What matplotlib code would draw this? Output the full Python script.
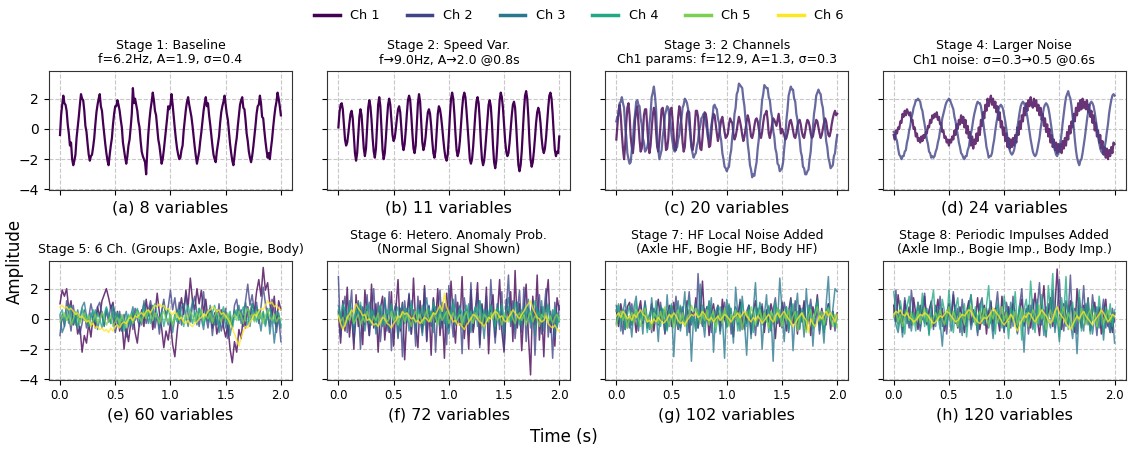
import numpy as np
import matplotlib
matplotlib.use("Agg")
import matplotlib.pyplot as plt
from matplotlib.lines import Line2D

CHANNELS = ["Ch 1", "Ch 2", "Ch 3", "Ch 4", "Ch 5", "Ch 6"]

TITLES = [
    "Stage 1: Baseline\nf=6.2Hz, A=1.9, σ=0.4",
    "Stage 2: Speed Var.\nf→9.0Hz, A→2.0 @0.8s",
    "Stage 3: 2 Channels\nCh1 params: f=12.9, A=1.3, σ=0.3",
    "Stage 4: Larger Noise\nCh1 noise: σ=0.3→0.5 @0.6s",
    "Stage 5: 6 Ch. (Groups: Axle, Bogie, Body)",
    "Stage 6: Hetero. Anomaly Prob.\n(Normal Signal Shown)",
    "Stage 7: HF Local Noise Added\n(Axle HF, Bogie HF, Body HF)",
    "Stage 8: Periodic Impulses Added\n(Axle Imp., Bogie Imp., Body Imp.)",
]
SUBLABELS = ["(a) 8 variables", "(b) 11 variables", "(c) 20 variables", "(d) 24 variables",
             "(e) 60 variables", "(f) 72 variables", "(g) 102 variables", "(h) 120 variables"]

# ---- stage 1 .. 4 (sampled every 0.01 s) ----
s1_ch1 = [-0.4, 0.9, 1.6, 2.2, 1.7, 1.6, 1.2, 0.3, -0.3, -1.1,
          -0.9, -2.0, -2.4, -2.1, -1.7, -0.6, 0.1, 0.8, 1.6, 2.3,
          2.0, 1.9, 1.2, 0.2, -0.2, -1.0, -1.7, -2.1, -1.8, -1.7,
          -1.2, -0.6, 0.3, 1.1, 1.6, 2.0, 2.3, 1.5, 1.2, 0.4,
          -0.3, -1.0, -1.6, -2.1, -2.4, -1.7, -1.1, -0.6, 0.3, 1.0,
          1.5, 1.5, 1.9, 1.6, 1.2, 0.6, 0.1, -0.9, -1.4, -1.9,
          -2.3, -1.8, -1.1, -0.7, 0.1, 1.0, 2.7, 1.7, 2.0, 1.6,
          1.2, 0.5, 0.1, -0.8, -1.5, -1.8, -2.0, -2.2, -3.0, -1.5,
          -0.3, 0.6, 1.3, 1.8, 2.4, 1.9, 1.2, 0.9, 0.1, -0.7,
          -1.1, -1.7, -2.3, -2.0, -1.4, -0.7, 0.0, 0.7, 1.5, 1.3,
          1.6, 2.3, 1.6, 0.8, 0.0, -0.7, -1.3, -1.7, -2.0, -1.9,
          -1.4, -1.1, -0.1, 0.6, 1.3, 1.8, 2.1, 1.6, 1.2, 0.8,
          0.2, -0.5, -1.2, -1.8, -2.3, -1.9, -1.5, -0.8, -0.2, 0.5,
          1.2, 1.7, 2.1, 1.5, 1.7, 0.9, 0.3, -0.4, -1.1, -1.7,
          -2.0, -2.2, -1.5, -1.0, -0.5, 0.4, 1.1, 1.5, 1.8, 2.2,
          1.6, 1.0, 0.6, -0.2, -1.0, -1.6, -2.1, -2.4, -1.8, -1.1,
          -0.6, 0.2, 0.9, 1.6, 1.9, 2.1, 1.4, 1.3, 0.6, -0.3,
          -0.8, -1.5, -1.9, -2.2, -1.8, -1.2, -0.5, 0.2, 1.0, 1.5,
          1.6, 2.2, 1.7, 0.8, 0.7, -0.1, -0.8, -1.4, -1.9, -1.6,
          -2.0, -1.3, -0.7, 0.1, 0.8, 1.4, 1.8, 2.4, 2.0, 1.5,
          0.9]

s2_ch1 = [0.1, 1.1, 1.6, 1.7, 1.3, 0.3, -0.7, -1.1, -0.9, -0.3, 0.4,
          1.0, 1.2, 0.7, -0.5, -1.6, -2.1, -1.6, -0.4, 0.8, 1.3,
          0.9, -0.2, -1.3, -1.8, -1.3, 0.1, 1.4, 1.9, 1.5, 0.6,
          -0.6, -1.5, -1.9, -1.3, 0.1, 1.6, 2.1, 1.5, 0.1, -1.4,
          -2.0, -1.6, -0.6, 0.6, 1.6, 2.0, 1.6, 0.6, -0.4, -0.8,
          -0.6, 0.0, 0.7, 1.3, 1.5, 1.1, 0.1, -1.0, -1.4, -1.0,
          -0.1, 1.0, 1.9, 2.2, 1.9, 0.9, -0.3, -1.3, -1.6, -1.1,
          0.3, 1.7, 2.3, 1.8, 0.5, -0.9, -1.4, -1.1, -0.5, 0.4,
          1.1, 1.3, 1.0, 0.2, -0.8, -1.6, -1.9, -1.4, -0.2, 1.0,
          1.5, 1.3, 0.8, 0.1, -0.7, -1.4, -1.9, -2.1, -1.7, -0.5,
          0.9, 2.0, 2.4, 2.0, 1.0, -0.3, -1.4, -1.8, -1.5, -0.8,
          0.3, 1.3, 2.1, 2.4, 2.1, 1.2, 0.1, -1.1, -2.0, -2.3,
          -2.0, -1.2, -0.1, 1.0, 1.8, 2.1, 1.7, 0.6, -0.9, -2.0,
          -2.4, -2.1, -1.3, -0.3, 0.8, 1.6, 1.9, 1.5, 0.4, -1.1,
          -2.2, -2.6, -2.1, -0.9, 0.7, 1.9, 2.4, 2.1, 1.4, 0.3,
          -0.8, -1.5, -1.8, -1.6, -0.9, 0.0, 0.9, 1.6, 1.8, 1.4,
          0.2, -1.2, -2.4, -2.8, -2.4, -1.5, -0.2, 1.2, 2.2, 2.5,
          2.0, 0.8, -0.8, -2.0, -2.5, -2.2, -1.5, -0.6, 0.4, 1.1,
          1.4, 1.1, 0.4, -0.6, -1.3, -1.6, -1.3, -0.6, 0.4, 1.4,
          2.2, 2.4, 2.0, 1.0, -0.3, -1.4, -1.8, -1.5, -1.6, -0.5]

s3_ch1 = [-0.7, 0.3, 1.2, 1.6, 0.9, -0.3, -1.3, -2.0, -1.1, 0.4,
          1.4, 1.7, 0.9, -0.5, -1.2, -1.6, -0.8, 0.6, 1.2, 1.5,
          0.4, -0.7, -1.5, -1.3, -0.4, 0.9, 1.3, 1.3, 0.1, -0.9,
          -1.6, -1.1, 0.0, 0.9, 1.4, 1.1, -0.2, -1.2, -1.5, -0.8,
          0.3, 1.3, 1.4, 0.8, -0.3, -1.4, -1.3, -0.7, 0.6, 1.3,
          1.4, 0.5, -0.6, -1.4, -1.4, -0.3, 0.8, 1.5, 1.1, 0.3,
          -0.9, -1.5, -1.2, 0.0, 1.0, 1.2, 1.1, -0.1, -1.1, -1.4,
          -1.0, 0.2, 1.2, 1.2, 0.8, -0.4, -1.3, -1.4, -0.6, 0.5,
          1.1, 1.0, 0.5, -0.5, -1.2, -1.1, -0.3, 0.6, 1.0, 0.9,
          0.3, -0.3, -0.8, -0.4, 0.1, 0.6, 0.8, 0.3, -0.2, -0.6,
          -0.5, -0.3, 0.3, 0.7, 0.5, 0.4, -0.3, -0.7, -0.5, -0.1,
          0.4, 0.8, 0.5, 0.1, -0.4, -0.8, -0.5, 0.0, 0.5, 0.9,
          0.6, 0.1, -0.5, -0.6, -0.3, 0.2, 0.6, 0.7, 0.5, 0.0,
          -0.4, -0.6, -0.2, 0.4, 0.9, 1.0, 1.2, 0.6, -0.3, -0.6,
          -0.2, 0.3, 0.7, 0.6, 0.4, 0.2, 0.6, 1.0, 0.4, -0.3,
          0.0, -0.2, -0.4, -0.7, -0.6, -0.3, 0.1, 0.5, 0.6, 0.3,
          -0.1, -0.5, -0.6, -0.3, 0.2, 0.5, 0.6, 0.3, -0.2, -0.5,
          -0.6, -0.2, 0.3, 0.6, 0.5, 0.2, -0.3, -0.6, -0.5, -0.1,
          0.3, 0.6, 0.5, 0.1, -0.3, -0.6, -0.4, 0.0, 0.4, 0.7,
          0.5, 0.0, -0.4, -0.5, -0.2, 0.3, 0.7, 1.0, 1.2, 0.9,
          1.0]

s3_ch2 = [0.5, 0.8, 0.9, 1.7, 1.8, 2.1, 1.7, 1.4, 0.2, -0.5, -1.6,
          -2.0, -2.3, -2.2, -1.4, -0.8, 0.4, 1.0, 1.8, 1.9, 1.6,
          1.5, 0.7, 0.3, -0.6, -0.9, -1.5, -1.4, -1.2, -0.8, 0.3,
          1.0, 2.1, 2.4, 2.8, 2.2, 1.3, -0.5, -1.4, -2.0, -1.7,
          -1.4, -0.5, 0.0, 0.9, 1.2, 1.5, 1.4, 0.8, 0.4, -0.4,
          -0.9, -1.4, -1.5, -1.3, -1.2, -0.7, -0.4, 0.3, 0.7, 1.4,
          1.6, 2.0, 1.9, 1.7, 1.3, 0.4, -0.4, -1.2, -1.6, -1.9,
          -1.7, -1.6, -1.1, -0.8, -0.1, 0.2, 0.7, 0.8, 1.0, 0.9,
          0.3, 0.0, -0.6, -0.7, -0.4, 0.2, 0.7, 1.5, 1.6, 1.4,
          1.3, 0.7, 0.4, -0.4, -0.8, -1.6, -2.0, -2.5, -2.6, -2.8,
          -2.6, -2.5, -1.8, -1.4, -0.5, 0.0, 1.0, 1.4, 2.3, 2.5,
          3.0, 2.9, 2.8, 2.7, 2.0, 1.5, 0.6, 0.0, -1.0, -1.6,
          -2.4, -2.7, -3.2, -3.0, -3.1, -2.6, -2.2, -1.3, -0.7, 0.4,
          1.0, 1.9, 2.3, 2.9, 2.8, 2.7, 2.7, 2.1, 1.9, 1.2,
          0.8, -0.1, -0.5, -1.3, -1.6, -2.3, -2.4, -2.8, -2.7, -2.6,
          -2.2, -1.3, -0.6, 0.6, 1.3, 2.2, 2.5, 2.8, 2.6, 2.6,
          2.0, 1.8, 1.0, 0.6, -0.2, -0.7, -1.5, -1.8, -2.5, -2.6,
          -3.0, -3.0, -2.8, -2.7, -2.0, -1.5, -0.5, 0.1, 1.0, 1.5,
          2.2, 2.4, 2.6, 2.4, 2.3, 1.7, 1.4, 0.6, 0.1, -0.8,
          -1.2, -1.9, -2.2, -2.6, -2.5, -2.4, -1.8, -1.6, -0.9, -0.4]

s4_ch1 = [-0.4, -0.7, -0.1, -0.3, 0.1, 0.0, 0.5, 0.4, 1.0, 0.8,
          1.2, 0.9, 1.3, 1.1, 0.9, 1.1, 0.5, 0.6, 0.0, 0.1,
          -0.5, -0.3, -0.8, -0.6, -0.9, -0.5, -0.8, -0.4, -0.6, -0.2,
          -0.3, 0.2, 0.1, 0.6, 0.4, 0.9, 0.7, 1.0, 0.8, 1.1,
          0.6, 0.8, 0.3, 0.4, -0.2, -0.1, -0.6, -0.5, -0.9, -0.7,
          -1.1, -0.7, -0.9, -0.5, -0.7, -0.1, -0.4, 0.3, 0.0, 0.6,
          0.3, 0.9, 0.4, 0.8, 0.1, 0.6, -0.3, 0.2, -0.6, -0.2,
          -1.1, -0.5, -1.3, -0.7, -1.0, -0.3, -0.8, 0.1, -0.4, 0.6,
          0.2, 1.1, 0.7, 1.6, 1.2, 2.0, 1.5, 1.9, 2.2, 1.6,
          2.0, 1.4, 1.8, 1.1, 1.5, 0.6, 1.1, 0.1, 0.5, -0.4,
          0.1, -0.8, -0.3, -1.2, -0.6, -1.3, -0.7, -1.2, -0.6, -1.1,
          -0.4, -0.9, 0.1, -0.4, 0.5, 0.0, 0.9, 0.5, 1.4, 0.9,
          1.7, 1.2, 1.9, 1.5, 2.1, 1.6, 1.4, 2.0, 1.5, 1.9,
          1.2, 1.6, 0.9, 1.4, 0.6, 1.0, 0.2, 0.7, -0.2, 0.3,
          -0.5, 0.0, -0.9, -0.4, -1.2, -0.7, -1.4, -0.9, -1.6, -1.0,
          -1.5, -1.0, -1.6, -0.8, -1.3, -0.6, -1.1, -0.2, -0.7, 0.2,
          -0.3, 0.5, 0.1, 1.0, 0.5, 1.4, 0.9, 1.7, 1.2, 1.9,
          1.3, 2.0, 1.4, 1.8, 1.3, 1.9, 1.1, 1.6, 0.8, 1.2,
          0.4, 0.9, -0.1, 0.4, -0.5, -0.1, -0.9, -0.4, -1.3, -0.8,
          -1.7, -1.2, -1.9, -1.3, -2.0, -1.4, -1.8, -1.2, -1.6, -0.9,
          -1.0]

s4_ch2 = [-0.2, -0.3, -0.6, -0.8, -1.3, -1.7, -1.8, -2.0, -1.8, -1.8, -1.5,
          -1.4, -0.9, -0.6, -0.1, 0.2, 0.7, 1.0, 1.4, 1.6, 1.9,
          1.9, 2.0, 1.9, 1.8, 1.4, 1.2, 0.7, 0.3, -0.2, -0.7,
          -1.0, -1.5, -1.6, -1.9, -1.8, -1.9, -1.8, -1.5, -1.3, -0.9,
          -0.6, -0.1, 0.2, 0.7, 1.0, 1.3, 1.6, 1.8, 1.9, 2.0,
          1.9, 1.7, 1.5, 1.3, 0.8, 0.5, 0.0, -0.4, -0.9, -1.2,
          -1.6, -1.7, -1.9, -2.0, -1.8, -1.8, -1.4, -1.2, -0.7, -0.3,
          0.1, 0.6, 1.0, 1.3, 1.6, 1.8, 1.7, 1.7, 1.5, 1.0,
          0.5, -0.1, -0.6, -1.2, -1.5, -1.9, -1.8, -1.8, -1.6, -1.1,
          -0.7, -0.1, 0.4, 0.8, 1.3, 1.5, 1.6, 1.5, 1.3, 0.9,
          0.5, 0.0, -0.6, -1.0, -1.4, -1.6, -1.7, -1.6, -1.4, -1.0,
          -0.5, 0.1, 0.6, 1.1, 1.5, 1.7, 1.8, 1.7, 1.5, 1.2,
          0.8, 0.3, -0.2, -0.7, -1.1, -1.5, -1.7, -1.8, -1.7, -1.4,
          -1.0, -0.6, 0.0, 0.5, 1.0, 1.4, 1.6, 1.7, 1.6, 1.4,
          1.0, 0.5, 0.0, -0.6, -1.0, -1.4, -1.7, -1.8, -1.6, -1.3,
          -0.9, -0.3, 0.4, 1.0, 1.6, 2.1, 2.3, 2.5, 2.2, 2.0,
          1.5, 0.8, 0.1, -0.7, -1.4, -1.9, -2.2, -2.4, -2.1, -2.0,
          -1.6, -1.1, -0.6, 0.0, 0.6, 1.1, 1.5, 1.7, 1.8, 1.7,
          1.5, 1.1, 0.6, 0.1, -0.4, -0.9, -1.3, -1.5, -1.6, -1.5,
          -1.2, -0.8, -0.2, 0.3, 1.0, 1.5, 1.9, 2.2, 2.3, 2.2]

# ---- stage 5 .. 8 (sampled every 0.02 s) ----
s5_ch1 = [1.0, 1.9, 1.5, 2.0, 0.6, 1.2, -0.4, 0.3, -1.0, -0.5, -2.2, -1.1, -1.6, -0.3, -1.2, 0.2, -0.6,
          0.8, 0.1, 1.2, 1.6, 2.0, 1.4, 0.7, 1.1, -0.4, 0.5, -0.8, -0.2, -2.0, -0.6, -1.5, -0.3, 0.4,
          -0.9, -1.6, -0.2, 0.6, -0.5, 1.3, 0.2, 0.9, -0.7, 0.3, 1.7, 0.4, -0.6, -1.9, -0.8, -1.4,
          -0.2, -1.7, -2.5, -0.9, 0.5, 1.4, 0.3, 1.9, 0.8, 2.7, 1.2, 0.6, 2.0, 1.0, 1.9, 0.4, 1.3,
          -0.1, 0.7, -0.6, 0.4, -1.0, -0.3, 0.6, -0.5, -1.2, -0.4, -2.0, -2.9, -1.5, -2.2, -0.7, -1.3,
          0.2, -0.6, 0.8, 0.1, 1.0, 0.5, 1.8, 2.6, 1.5, 3.4, 1.9, 2.4, 1.0, 0.2, 1.5, -0.5, 1.2, 0.6]
s5_ch2 = [-1.1, 0.3, -0.5, 1.2, 0.2, -0.8, 0.9, -0.2, 0.4, -1.0, -0.3, 0.6, -0.6, 0.1, 1.0, 0.3, -0.4,
          0.8, 1.1, 0.2, -0.5, 0.6, -0.2, 0.9, 0.1, -0.9, -0.3, 0.5, -0.8, 0.3, -1.2, -0.4, 0.2, -0.7,
          0.7, 0.0, -0.5, 0.4, 1.0, -0.3, 0.6, 1.2, 0.2, -0.6, 0.3, -1.0, 0.5, 1.3, 0.1, 0.8, 1.9,
          0.6, 1.4, 0.2, 1.1, -0.4, 0.7, 1.6, 0.3, -0.2, 0.9, 1.5, 0.4, -0.5, 0.6, 1.8, 0.2, -0.6,
          0.5, -1.1, 0.3, -0.4, 1.0, -0.8, -0.2, 0.7, -1.3, 0.2, -0.6, 0.9, 1.3, 0.1, 0.6, -0.5, 1.2,
          2.3, 0.9, 1.6, 0.4, 1.1, -0.3, 0.8, 2.1, 1.0, 0.2, -0.5, 1.3, 0.4, -0.9, 0.2, -1.5]
s5_ch3 = [0.2, -0.9, -0.5, 0.4, -0.3, 0.9, 0.1, -0.4, 0.6, -0.2, 0.8, 1.1, 0.2, -0.5, 0.4, -0.1, 0.6,
          -0.7, 0.0, 0.5, -0.4, 0.7, 0.2, -0.3, 0.9, 0.4, -0.2, 0.3, -0.8, -0.1, 0.5, -0.5, 0.2, 0.8,
          -0.1, 0.6, 0.3, -0.4, 1.2, 0.4, -0.3, 0.5, 0.9, -0.2, 0.3, -0.6, 0.4, 1.1, 0.2, -0.4, 0.3,
          -0.9, 0.1, 0.6, -0.3, 0.8, 1.0, 0.2, -0.5, 0.4, 1.2, 0.3, -0.4, 0.7, 0.0, -0.7, 0.5, -0.2,
          0.9, 0.2, -0.4, 0.6, -0.9, 0.1, 0.5, -0.6, 0.3, -1.1, -0.2, 0.6, 0.2, 0.9, -0.3, 0.4, 1.1,
          0.3, -0.5, 0.6, -0.1, 0.8, 0.1, -0.8, 0.5, -0.4, 0.7, -1.0, 0.2, -1.6, -0.3, 0.4, -0.6]
s5_ch4 = [0.3, 0.6, -0.2, 0.5, 0.9, 0.1, -0.3, 0.4, -0.6, 0.2, 0.7, -0.1, 0.3, -0.5, 0.1, 0.6, -0.2,
          0.4, 0.0, -0.6, 0.3, 0.8, 0.2, -0.3, 0.5, -0.1, 0.4, -0.5, 0.2, -0.8, -0.1, 0.3, -0.4, 0.5,
          0.1, 0.7, -0.2, 0.4, 0.8, 0.1, 0.5, -0.3, 0.6, 1.0, 0.3, -0.2, 0.4, -0.5, 0.2, 0.7, 0.0,
          -0.4, 0.3, -0.2, 0.6, 0.1, -0.5, 0.4, 0.9, 0.2, -0.3, 0.5, -0.1, 0.7, 0.3, -0.4, 0.2, 0.6,
          -0.2, 0.4, 0.9, 0.1, -0.5, 0.3, 0.8, 0.0, -0.3, 0.5, -0.6, 0.2, 0.6, -0.1, 0.4, 0.8, 0.1,
          -0.4, 0.5, 1.0, 0.3, -0.2, 0.6, 0.0, 0.4, -0.5, 0.3, 0.7, 0.1, -0.3, 0.5, 0.2, -0.4]
s5_ch5 = [-0.2, 0.1, 0.4, -0.1, 0.3, -0.4, 0.0, 0.5, 0.2, -0.3, 0.1, 0.4, -0.2, 0.2, -0.5, -0.1, 0.3,
          -0.3, 0.0, 0.4, 0.1, -0.4, -0.1, 0.2, -0.5, -0.2, 0.1, -0.4, 0.3, -0.1, -0.6, 0.0, 0.3, -0.3,
          0.2, 0.5, 0.1, -0.2, 0.4, 0.0, 0.6, 0.3, -0.1, 0.4, 0.1, -0.3, 0.2, 0.5, 0.0, -0.2, 0.3,
          -0.4, 0.1, 0.4, -0.1, 0.2, -0.3, 0.3, 0.0, 0.5, 0.2, -0.2, 0.4, 0.1, 0.6, -0.1, 0.3, 0.0,
          0.4, -0.3, 0.2, 0.5, 0.1, -0.2, 0.3, 0.0, 0.4, -0.4, 0.1, 0.3, -0.1, 0.5, 0.2, -0.3, 0.4,
          0.7, 0.1, 0.3, -0.2, 0.5, 0.0, 0.4, -0.3, 0.2, 0.6, 0.1, -0.1, 0.3, -0.2, 0.1, 0.0]
s5_ch6 = [0.8, 0.9, 0.7, 0.8, 0.6, 0.7, 0.5, 0.3, 0.4, 0.1, 0.2, 0.0, -0.2, -0.1, -0.4, -0.3, -0.6,
          -0.5, -0.7, -0.6, -0.8, -0.7, -0.9, -0.6, -0.8, -0.5, -0.4, -0.6, -0.3, -0.2, -0.3, 0.0, 0.1,
          -0.1, 0.2, 0.1, 0.3, 0.4, 0.2, 0.5, 0.6, 0.4, 0.7, 0.9, 0.8, 1.0, 0.8, 0.9, 0.6, 0.7, 0.4,
          0.3, 0.5, 0.2, 0.0, 0.1, -0.2, -0.3, -0.1, -0.4, -0.5, -0.3, -0.2, 0.0, 0.1, 0.3, 0.2, 0.5,
          0.6, 0.8, 0.7, 0.5, 0.6, 0.3, 0.4, 0.2, 0.0, -0.3, -0.6, -1.0, -1.4, -1.8, -1.2, -0.8, -0.5,
          -0.6, -0.2, 0.0, 0.3, 0.2, 0.5, 0.7, 0.6, 0.9, 1.2, 1.0, 1.1, 0.8, 0.9, 0.7, 0.6]

s6_ch1 = [0.5, -1.6, 1.2, -0.8, 2.1, -1.2, 0.4, -2.0, 1.6, -0.5, 0.9, -1.7, 1.9, 0.2, -1.1, 2.3, -0.6,
          1.0, -2.2, 0.7, 1.5, -1.4, 0.3, -0.9, 1.8, -1.8, 0.6, 2.6, -0.8, 1.1, -2.7, 0.2, 1.6, -1.0,
          2.7, -0.3, -1.9, 1.2, -0.7, 2.2, -1.5, 0.8, -2.4, 1.4, -0.2, 2.0, -1.1, 0.5, -2.6, 1.7, -0.6,
          2.5, 0.1, -1.6, 1.1, -0.4, 2.8, -1.3, 0.6, -2.0, 1.9, -0.9, 0.4, 2.4, -1.7, 1.0, -0.5, 2.1,
          -2.3, 0.7, 1.6, -1.2, 0.3, 2.6, -0.8, -2.2, 1.3, 0.0, 1.8, -1.5, 3.2, -0.6, 1.0, -2.1, 0.5,
          2.3, -1.0, -3.7, 1.5, -0.4, 2.9, -1.4, 0.8, -2.5, 1.2, 2.6, -0.9, 0.3, -1.8, 1.4, 0.6]
s6_ch2 = [2.8, -1.2, 0.6, 1.5, -0.9, 0.3, 1.9, -1.6, 0.1, 1.2, -2.0, 0.8, -0.4, 1.6, -1.1, 0.5, 2.0,
          -0.7, 1.1, -1.5, 0.2, 1.4, -0.8, 1.8, -2.1, 0.4, 1.0, -1.3, 0.7, -2.5, 1.2, -0.2, 1.7, -1.0,
          0.6, -1.8, 1.5, 0.0, -0.9, 2.0, -1.4, 0.9, -0.5, 1.3, -2.2, 0.6, 1.9, -0.6, 1.0, -1.7, 2.2,
          0.3, -1.2, 1.6, -0.3, 0.8, -2.3, 1.4, 0.1, -1.0, 2.4, -0.8, 0.5, 1.7, -1.9, 0.9, -0.4, 1.5,
          -1.1, 2.6, 0.2, -1.6, 1.0, -0.7, 1.8, -2.0, 0.6, 2.9, -0.5, 1.2, -1.3, 0.4, 1.9, -0.9, 2.1,
          -1.5, 0.7, -0.2, 1.3, -2.4, 0.8, 1.6, -1.0, 0.3, 2.0, -1.2, 0.5, -2.6, 1.1, -0.6, 0.9]
s6_ch3 = [0.9, 0.2, -0.6, 0.8, -0.3, 1.2, 0.4, -0.9, 0.5, 1.0, -0.2, 0.7, -0.8, 0.3, 1.1, -0.4, 0.6,
          -1.0, 0.2, 0.9, -0.5, 1.3, 0.1, -0.7, 0.8, -0.2, 0.5, -1.2, 0.4, 1.0, -0.3, 0.7, -0.8, 1.2,
          0.0, -0.6, 0.9, 0.3, -1.1, 0.6, 1.4, -0.2, 0.5, -0.9, 0.8, 0.1, -0.5, 1.1, -0.3, 0.7, -1.0,
          0.4, 1.3, -0.4, 0.2, 0.9, -0.7, 0.5, -0.2, 1.0, -0.9, 0.3, 0.8, -0.5, 1.2, 0.1, -1.3, 0.6,
          -0.1, 0.9, 0.3, -0.8, 1.0, -0.4, 0.5, -1.0, 0.7, 1.4, -0.2, 0.4, -0.7, 1.1, 0.2, -0.5, 0.9,
          -0.1, 1.3, -0.6, 0.5, -1.1, 0.8, 0.0, 1.2, -0.8, 0.3, 0.9, -0.4, 0.6, -1.2, 0.4, -0.2]
s6_ch4 = [0.6, 0.1, 1.0, 0.3, -0.2, 0.8, 0.5, -0.4, 0.7, 0.2, 1.1, -0.1, 0.4, 0.9, -0.3, 0.6, 0.2,
          -0.5, 0.5, 0.9, 0.0, -0.4, 0.6, 0.3, 1.0, -0.2, 0.4, 0.8, -0.6, 0.2, 0.7, -0.1, 0.5, 1.0,
          0.2, -0.3, 0.6, 0.1, 0.9, -0.4, 0.3, 0.7, 0.0, 1.1, 0.4, -0.2, 0.8, 0.1, 0.5, -0.5, 0.6,
          0.2, 1.0, 0.3, -0.1, 0.7, 0.4, -0.4, 0.9, 0.1, 0.5, -0.2, 0.8, 0.3, 1.2, 0.0, 0.6, -0.3,
          0.4, 0.9, 0.1, -0.5, 0.7, 0.3, 1.0, -0.1, 0.5, 0.8, -0.2, 0.4, 1.1, 0.2, -0.4, 0.6, 0.0,
          0.9, 0.3, -0.3, 0.7, 1.2, 0.1, 0.5, -0.2, 0.8, 0.4, 1.0, -0.1, 0.3, 0.7, -0.5, 0.2]
s6_ch5 = [0.3, -0.2, 0.1, -0.5, 0.2, -0.1, 0.4, -0.3, 0.0, 0.3, -0.4, 0.1, -0.2, 0.5, 0.0, -0.3, 0.2,
          -0.1, 0.4, -0.4, 0.1, 0.3, -0.2, 0.0, 0.5, -0.1, 0.2, -0.4, 0.1, 0.4, -0.2, 0.3, 0.0, -0.5,
          0.2, 0.5, -0.1, 0.3, -0.3, 0.1, 0.6, 0.0, -0.2, 0.4, 0.1, -0.4, 0.3, -0.1, 0.2, 0.5, -0.3,
          0.1, 0.4, -0.2, 0.0, 0.3, -0.4, 0.2, 0.5, -0.1, 0.1, -0.3, 0.4, 0.0, 0.2, -0.5, 0.3, 0.1,
          -0.2, 0.4, 0.0, 0.6, -0.1, 0.2, -0.4, 0.3, 0.1, -0.2, 0.5, 0.0, -0.3, 0.2, 0.4, -0.1, 0.3,
          -0.4, 0.1, 0.5, -0.2, 0.2, 0.0, -0.5, 0.3, 0.1, 0.4, -0.2, 0.2, -0.3, 0.1, 0.3, -0.1]
s6_ch6 = [0.2, -0.3, -0.7, -0.4, 0.1, 0.3, 0.6, 0.4, 1.0, 0.7, 0.5, 0.2, 0.3, -0.1, 0.0, -0.2, -0.4,
          -0.3, -0.5, -0.2, 0.1, 0.0, -0.3, -0.4, -0.6, -0.3, -0.1, 0.2, 0.1, 0.5, 0.3, 0.4, 0.2, 0.0,
          0.1, -0.2, -0.1, -0.3, -0.1, 0.1, 0.0, -0.2, 0.1, 0.4, 0.3, 0.6, 0.9, 0.5, 1.7, 0.8, 0.4,
          0.1, -0.2, -0.1, -0.4, -0.3, -0.5, -0.7, -0.4, -0.2, 0.0, 0.3, 0.2, 0.0, -0.2, -0.3, -0.5,
          -0.2, 0.1, 0.0, 0.3, 0.5, 0.4, 0.1, 0.2, -0.1, -0.2, 0.1, 0.3, 0.6, 0.4, 0.2, 0.0, 0.3,
          0.5, 0.8, 1.0, 1.2, 0.7, 0.4, 0.1, 0.0, -0.2, -0.1, 0.2, -0.3, -0.5, -0.6, -0.4, -0.7, -0.8]

s7_ch1 = [0.6, -0.5, 1.0, 0.2, -0.7, 0.8, 1.1, -0.4, 0.3, -0.9, 0.5, 1.2, -0.3, 0.7, -0.6, 0.1, 1.0,
          -0.8, 0.4, 1.3, -0.2, 0.6, -1.0, 0.3, 0.9, -0.5, 1.1, 0.0, -0.7, 0.8, 0.2, -0.4, 1.2, -0.9,
          0.5, 0.1, 1.4, -0.6, 0.3, 2.5, -0.3, 0.8, -1.1, 0.4, 1.0, -0.2, 0.6, -0.8, 1.3, 0.0, -0.5,
          0.9, 0.3, -1.2, 0.7, 0.2, 1.1, -0.7, 0.4, -0.3, 0.9, -1.0, 0.5, 1.2, -0.4, 0.1, 0.8, -0.9,
          0.6, -0.2, 1.0, 0.3, -1.3, 0.7, -0.5, 1.1, 0.2, -0.8, 0.5, 1.4, -0.3, 0.6, -1.0, 0.9, 0.0,
          1.2, -0.6, 0.4, -1.1, 0.8, 0.1, 1.6, -0.4, 0.7, -0.9, 0.3, 1.0, -0.7, 0.5, -0.2, 0.4]
s7_ch2 = [0.9, -0.3, 0.4, -1.0, 0.6, 0.1, -0.6, 1.0, -0.2, 0.5, -0.8, 0.8, 0.0, 1.2, -0.5, 0.3, -0.9,
          0.7, 0.2, -0.4, 1.1, -0.1, 0.6, -0.7, 0.4, 0.9, -0.3, 1.5, 0.1, -0.6, 0.8, -0.2, 0.5, 1.8,
          -0.4, 0.3, -0.8, 3.0, 0.2, -0.5, 0.7, -0.1, 1.2, -0.9, 0.4, 0.0, 0.9, -0.6, 0.5, 1.1, -0.3,
          0.6, -1.0, 0.2, 0.8, -0.4, 1.3, 0.1, -0.7, 0.5, 0.9, -0.2, 0.4, -1.1, 0.7, 0.0, 1.0, -0.5,
          0.3, 0.8, -0.8, 0.6, 1.4, -0.3, 0.2, -0.6, 1.1, 0.3, -0.9, 0.5, 0.1, 1.2, -0.4, 0.7, -0.2,
          1.0, -0.7, 0.4, 1.3, 0.0, -0.5, 0.8, -1.0, 0.6, 0.2, -0.4, 1.0, -0.2, 0.5, -0.8, 0.3]
s7_ch3 = [-0.3, 0.9, -0.8, 0.4, 1.3, -0.6, 0.2, -1.2, 0.8, 1.5, -0.4, 0.6, -1.0, 1.1, 0.0, -0.7, 1.4,
          -0.2, 0.5, -1.5, 0.9, 0.3, -0.9, 1.6, -0.5, 0.7, -2.5, 0.4, 1.2, -0.8, 0.2, 1.8, -1.1, 0.6,
          -2.8, 0.3, 1.0, -0.6, 2.3, 0.1, -1.2, 0.8, -0.3, 1.4, -2.2, 0.5, 0.9, -1.0, 0.2, -2.6, 1.3,
          -0.4, 0.7, -1.6, 2.1, 0.3, -0.8, 1.5, -0.2, -2.4, 0.9, -1.3, 0.6, 2.4, -0.5, 1.1, -2.0, 0.2,
          1.6, -0.9, 0.4, -2.8, 1.0, -0.3, 2.7, 0.6, -1.5, 0.8, -0.6, 1.3, -2.1, 0.3, 1.7, -0.7, 0.5,
          -1.2, 2.0, -0.1, 0.9, -1.8, 0.4, 1.4, -0.8, 0.2, -1.6, 1.0, 2.8, -0.4, 0.6, 2.0, 1.8]
s7_ch4 = [0.5, 1.0, -0.2, 0.6, -0.7, 0.3, 0.9, -0.4, 0.2, 1.1, -0.6, 0.4, -0.1, 0.8, -0.9, 0.3, 0.6,
          -0.3, 1.2, 0.0, -0.5, 0.7, 0.2, -0.8, 0.5, 1.0, -0.2, 0.4, -0.6, 0.9, 0.1, -0.4, 0.7, 1.3,
          -0.3, 0.2, -0.8, 0.6, 0.0, 0.9, -0.5, 0.3, 1.1, -0.2, 0.5, -0.9, 0.4, 0.8, -0.1, 0.6, -0.6,
          1.0, 0.2, -0.3, 0.7, -0.8, 0.4, 1.2, 0.0, -0.5, 0.6, 0.3, -0.9, 0.8, 0.1, 1.0, -0.4, 0.5,
          -0.2, 0.9, -0.7, 0.3, 1.1, -0.1, 0.6, -0.5, 0.2, 0.8, -0.8, 0.4, 1.0, -0.3, 0.5, -0.6, 0.7,
          0.1, -0.4, 0.9, 0.2, -0.7, 0.6, 1.1, -0.2, 0.3, -0.9, 0.5, 0.8, -0.1, 0.4, -0.5, 0.2]
s7_ch5 = [-0.4, 0.2, 0.5, -0.1, 0.3, -0.6, 0.1, 0.4, -0.3, 0.6, 0.0, -0.5, 0.3, 0.7, -0.2, 0.1, -0.7,
          0.4, 0.2, -0.3, 0.5, -0.1, 0.8, 0.0, -0.4, 0.3, -0.6, 0.2, 0.6, -0.2, 0.4, -0.5, 0.1, 0.3,
          0.9, 0.5, 0.7, 0.2, -0.3, 0.4, -0.1, 0.6, -0.4, 0.2, 0.5, -0.6, 0.0, 0.4, -0.3, 0.7, 0.1,
          -0.5, 0.3, 0.0, 0.6, -0.2, 0.4, -0.7, 0.2, 0.5, -0.1, 0.8, 0.3, -0.4, 0.1, 0.6, -0.3, 0.4,
          0.0, -0.6, 0.5, 0.2, -0.2, 0.7, 0.1, -0.5, 0.3, -0.1, 0.6, -0.4, 0.2, 0.5, -0.8, 0.1, 0.4,
          -0.3, -0.9, 0.2, 0.6, -0.2, 0.3, 0.8, -0.1, 0.5, -0.4, 0.2, 0.7, 0.0, -0.5, 0.3, -0.6]
s7_ch6 = [0.2, 0.4, 0.1, 0.5, 0.3, 0.0, 0.2, -0.1, 0.3, 0.1, 0.4, 0.6, 0.3, 0.2, -0.2, -0.1, -0.3,
          0.0, -0.2, 0.1, -0.1, -0.3, -0.2, 0.0, 0.3, 0.1, 0.4, 0.2, -0.1, -0.3, -0.2, -0.4, -0.1, 0.1,
          0.3, 0.2, 0.4, 0.1, 0.2, 0.5, 0.3, 0.0, -0.1, 0.1, -0.2, 0.0, 0.2, -0.1, 0.1, 0.3, 0.2,
          0.0, -0.2, 0.1, 0.2, 0.4, 0.1, 0.3, 0.5, 0.2, 0.0, -0.2, 0.1, -0.1, 0.2, 0.0, -0.3, -0.1,
          0.1, 0.3, 0.0, -0.2, 0.2, 0.4, 0.1, 0.3, 0.5, 0.2, 0.0, -0.2, -0.5, -0.3, 0.0, 0.2, 0.4,
          0.1, -0.1, -0.9, 0.0, -0.3, -0.5, -0.2, 0.2, 0.0, 0.3, 0.5, 0.2, 0.4, 0.1, -0.2, 0.3]

s8_ch1 = [0.9, -0.2, 1.6, 0.4, -0.6, 1.2, 0.1, 0.8, -0.4, 1.4, 0.3, -0.7, 0.9, 0.0, 1.5, -0.3, 0.6,
          1.1, -0.5, 0.2, 1.3, -0.1, 0.7, -0.8, 0.4, 1.0, -0.2, 1.6, 0.3, -0.6, 0.8, 0.1, -0.9, 0.5,
          1.2, -0.4, 0.6, 0.0, 1.4, -0.7, 0.3, 0.9, -1.0, 0.5, 1.1, -0.3, 0.7, 0.2, -0.8, 1.5, 0.1,
          -0.5, 0.8, -0.2, 1.0, 0.4, -0.9, 0.6, 1.3, -0.4, 0.2, 0.9, -0.6, 0.5, 1.7, 0.0, -1.1, 0.7,
          2.2, -0.3, 0.4, 1.4, -0.5, 0.8, 3.3, 0.6, -0.7, 1.0, 0.2, -0.4, 1.2, 0.5, -0.9, 2.0, 0.3,
          -0.6, 0.9, 0.1, 1.4, -0.8, 0.5, 1.1, -0.3, 0.7, -1.0, 0.4, 1.3, -0.5, 0.2, -0.9, 0.4]
s8_ch2 = [0.4, 1.9, -0.3, 0.8, -0.9, 1.4, 0.2, -0.6, 1.9, 0.5, -0.2, 1.1, -0.8, 0.6, 1.7, -0.4, 0.3,
          1.2, -0.7, 0.9, 0.0, 1.5, -0.5, 0.4, -1.0, 1.0, 0.2, 1.8, -0.3, 0.7, -0.9, 1.3, 0.1, -0.5,
          0.8, 1.6, -0.2, 0.4, -1.1, 0.9, 1.4, -0.4, 0.6, 0.0, 1.2, -0.8, 0.5, 1.8, -0.1, 0.3, -0.9,
          1.1, 0.4, -0.6, 1.5, 0.2, -0.3, 0.9, 2.0, -0.5, 0.7, -1.0, 0.3, 1.3, -0.2, 0.8, 2.4, -0.4,
          0.6, -1.2, 1.0, 0.1, 1.9, -0.6, 0.5, 2.6, 0.0, -0.8, 1.2, 0.3, 2.9, -0.5, 0.7, -1.0, 1.4,
          0.2, 2.2, -0.3, 0.9, -0.7, 1.6, 0.4, -1.1, 0.8, 0.1, 1.3, -0.6, 0.5, -0.9, 0.7, -0.2]
s8_ch3 = [0.3, -0.4, -0.9, 0.2, -1.2, 0.6, -0.3, 0.1, -0.8, 0.5, -0.1, 0.9, -0.6, 0.2, -0.3, 0.7, -1.0,
          0.4, 0.0, -0.5, 0.8, -0.2, -1.8, 0.3, -0.4, 0.6, -0.8, 0.1, 0.9, -0.5, 0.3, -1.1, 0.5, -0.2,
          0.8, -0.7, 0.0, 0.4, -0.9, 1.0, -0.3, 0.2, 0.7, -0.6, 0.1, -1.3, 0.5, 0.9, -0.4, 0.3, -0.8,
          0.6, -0.1, 1.1, -0.5, 0.2, -1.0, 0.7, 0.4, -2.2, 0.6, -0.3, 0.9, -0.7, 0.2, 1.3, -0.4, 0.5,
          -1.1, 0.8, 0.0, -0.6, 1.2, -0.9, 0.3, -1.5, 0.6, 0.1, -0.5, 0.9, -0.2, -1.3, 0.4, -2.3, 0.7,
          0.0, -0.8, 1.0, -0.4, 0.5, -1.0, 0.2, 0.8, -0.6, 0.3, -1.4, 0.6, -0.3, -0.9, 0.4, -1.6]
s8_ch4 = [1.8, 0.5, -0.6, 1.2, 0.2, -1.0, 0.8, 1.5, -0.3, 0.4, -0.8, 1.1, 0.0, 1.7, -0.5, 0.6, -1.1,
          0.9, 1.9, -0.2, 0.3, -0.7, 1.3, 0.5, -0.4, 1.9, 0.1, -0.9, 0.7, 1.4, -0.6, 0.2, 1.0, -1.2,
          0.6, 1.6, -0.1, 0.8, -0.7, 0.3, 1.2, -0.4, 0.9, 2.2, -0.3, 0.5, -1.0, 1.1, 0.2, -0.6, 1.5,
          0.4, -1.3, 0.7, 0.0, 1.8, -0.5, 0.9, -1.4, 0.6, 1.3, -0.2, 2.5, 0.4, -0.9, 1.0, -0.3, 1.6,
          0.1, -1.1, 2.2, 0.5, 3.0, -0.4, 0.8, -1.2, 1.4, 0.2, 2.8, -0.7, 0.6, 1.1, -0.5, 0.3, 1.9,
          -0.8, 0.7, 0.0, 1.3, -1.0, 0.9, 0.4, -0.6, 1.5, 0.1, -0.9, 0.8, -0.3, 1.0, -0.5, 0.6]
s8_ch5 = [0.1, 0.5, -0.2, 0.3, -0.5, 0.2, 0.6, -0.1, 0.4, -0.4, 0.0, 0.5, -0.3, 0.2, 0.7, -0.2, 0.3,
          -0.6, 0.1, 0.4, -0.1, 0.6, 0.0, -0.4, 0.3, 0.8, -0.2, 0.5, 0.1, -0.5, 0.4, 0.2, -0.3, 0.6,
          0.0, 0.9, 0.3, -0.4, 0.2, 0.5, -0.2, 0.7, 0.1, -0.5, 0.4, 0.0, 0.6, -0.3, 0.2, 0.8, -0.1,
          0.4, -0.6, 0.3, 0.0, 0.5, -0.4, 0.2, 0.7, -0.2, 0.4, -0.5, 0.1, 0.6, 0.3, -0.3, 0.9, 0.0,
          0.4, -0.7, 0.2, 0.6, -0.2, 0.5, 0.1, -0.5, 0.3, 0.8, -0.3, 0.4, 0.0, -0.6, 0.5, 0.2, -0.2,
          0.7, 0.1, -0.4, 0.3, 0.6, -0.1, 0.4, -0.5, 0.2, 0.5, -0.3, 0.1, 0.6, -0.2, 0.3, 0.1]
s8_ch6 = [0.3, 0.5, 0.4, 0.6, 0.3, 0.2, 0.4, 0.1, 0.0, -0.2, -0.1, 0.1, 0.3, 0.2, 0.4, 0.3, 0.1,
          -0.1, -0.3, -0.2, 0.0, 0.2, 0.1, 0.3, 0.5, 0.4, 0.2, 0.0, -0.2, -0.1, 0.1, 0.3, 0.2, 0.4,
          0.6, 0.5, 0.2, 0.0, -0.2, -0.3, -0.1, 0.1, 0.0, 0.2, 0.4, 0.7, 0.5, 0.3, 0.1, -0.2, -0.4,
          -0.2, 0.0, 0.3, 0.1, -0.5, -0.8, -0.4, -0.1, 0.2, 0.1, 0.4, 0.3, 0.0, -0.2, 0.1, 0.3, 0.6,
          0.4, 0.2, -0.1, -0.3, 0.0, 0.5, 0.8, 0.4, 0.2, 0.0, -0.3, -0.5, -0.7, -0.4, -0.1, 0.2, 0.0,
          0.3, 0.5, 0.2, 0.0, -0.2, -0.4, -0.1, 0.1, 0.3, 0.6, 0.4, 0.1, -0.2, 0.0, 0.3, 0.2]

STAGES = [
    [s1_ch1],
    [s2_ch1],
    [s3_ch1, s3_ch2],
    [s4_ch1, s4_ch2],
    [s5_ch1, s5_ch2, s5_ch3, s5_ch4, s5_ch5, s5_ch6],
    [s6_ch1, s6_ch2, s6_ch3, s6_ch4, s6_ch5, s6_ch6],
    [s7_ch1, s7_ch2, s7_ch3, s7_ch4, s7_ch5, s7_ch6],
    [s8_ch1, s8_ch2, s8_ch3, s8_ch4, s8_ch5, s8_ch6],
]

colors = plt.cm.viridis(np.linspace(0, 1, 6))

fig = plt.figure(figsize=(11.28, 4.5), dpi=100)
lefts = [0.0434, 0.2902, 0.5366, 0.7825]
bottoms = [0.5784, 0.1562]
width, height = 0.2154, 0.2628

first = None
for i, series in enumerate(STAGES):
    row, col = divmod(i, 4)
    ax = fig.add_axes([lefts[col], bottoms[row], width, height], sharex=first, sharey=first)
    if first is None:
        first = ax
    for ch, y in enumerate(series):
        x = np.linspace(0, 2, len(y))
        if i < 2:
            ax.plot(x, y, color=colors[ch], linewidth=1.6)
        elif i < 4:
            ax.plot(x, y, color=colors[ch], linewidth=1.6, alpha=0.8)
        else:
            ax.plot(x, y, color=colors[ch], linewidth=1.1, alpha=0.78)
    ax.set_title(TITLES[i], fontsize=9, linespacing=1.15)
    ax.set_xlabel(SUBLABELS[i], fontsize=11.5)
    ax.grid(True, linestyle="--", color="#c8c8c8", linewidth=0.8)
    ax.tick_params(axis="y", labelsize=10)
    ax.tick_params(axis="x", labelsize=8.5)
    for sp in ax.spines.values():
        sp.set_color("#333333")
    if row == 0:
        ax.tick_params(labelbottom=False)
    if col > 0:
        ax.tick_params(labelleft=False)

first.set_xlim(-0.1, 2.1)
first.set_ylim(-4.02, 3.8)
first.set_xticks([0, 0.5, 1.0, 1.5, 2.0])
first.set_yticks([-4, -2, 0, 2])

handles = [Line2D([0], [0], color=colors[k], linewidth=2.5) for k in range(6)]
fig.legend(handles, CHANNELS, loc="upper center", bbox_to_anchor=(0.513, 1.005), ncol=6,
           frameon=False, fontsize=9.3, columnspacing=2.1)
fig.text(0.5, 0.03, "Time (s)", ha="center", va="center", fontsize=12)
fig.text(0.013, 0.42, "Amplitude", ha="center", va="center", rotation=90, fontsize=12)

fig.savefig("out.png", dpi=100)
